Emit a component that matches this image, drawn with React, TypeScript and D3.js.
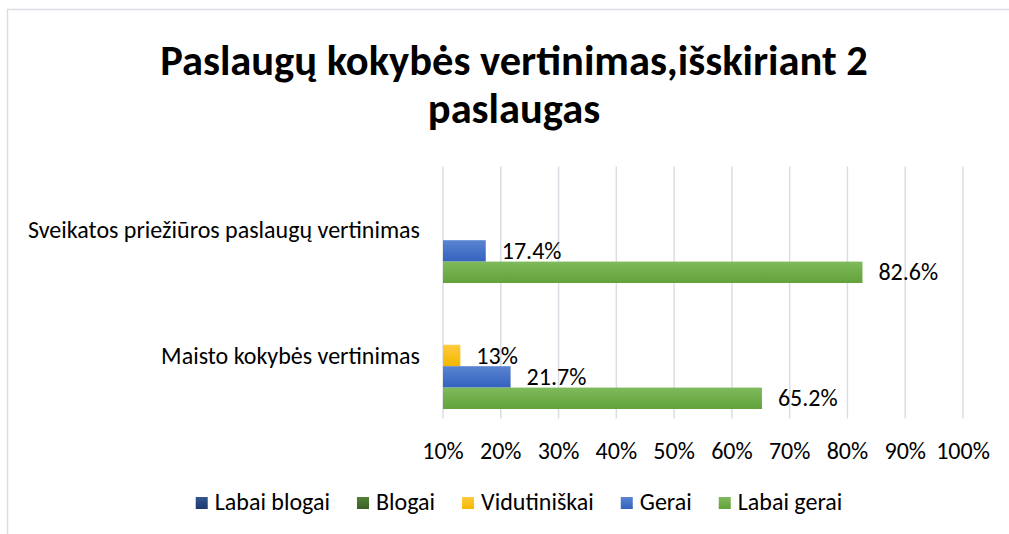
import React from "react";
import * as d3 from "d3";

const categories = ["Sveikatos priežiūros paslaugų vertinimas", "Maisto kokybės vertinimas"];
const seriesNames = ["Labai blogai", "Blogai", "Vidutiniškai", "Gerai", "Labai gerai"];
const labaiBlogai = [null, null];
const blogai = [null, null];
const vidutiniskai = [null, 13];
const gerai = [17.4, 21.7];
const labaiGerai = [82.6, 65.2];
const tickValues = [10, 20, 30, 40, 50, 60, 70, 80, 90, 100];
const titleLines = ["Paslaugų kokybės vertinimas,išskiriant 2", "paslaugas"];

const seriesValues = [labaiBlogai, blogai, vidutiniskai, gerai, labaiGerai];
const colors: [string, string][] = [
  ["#34558f", "#1f3a6c"],
  ["#52803a", "#3b6024"],
  ["#ffca3e", "#f3b800"],
  ["#5a84d2", "#3462bd"],
  ["#7fba5c", "#62a23a"],
];

const FONT = "Carlito, Calibri, Lato, sans-serif";

function measure(text: string, font: string): number {
  const c = document.createElement("canvas");
  const ctx = c.getContext("2d");
  if (!ctx) return text.length * 10;
  ctx.font = font;
  return ctx.measureText(text).width;
}

export default function App() {
  const W = 1009, H = 534;
  const x = d3.scaleLinear().domain([10, 100]).range([443, 963]);
  const y0 = d3.scaleBand<string>().domain(categories).range([166.5, 418.5]).padding(0);
  const y1 = d3
    .scaleBand<string>()
    .domain(seriesNames)
    .range([0, y0.bandwidth()])
    .paddingInner(0)
    .paddingOuter(0.444);

  const fs = 24;
  const legendSq = 12;
  const legendGap = 7;
  const legendItemGap = 27;
  const widths = seriesNames.map((s) => measure(s, `${fs}px ${FONT}`));
  const total =
    widths.reduce((a, b) => a + b, 0) + seriesNames.length * (legendSq + legendGap) + (seriesNames.length - 1) * legendItemGap;
  let lx = 519 - total / 2;
  const legendPos = widths.map((w) => {
    const p = lx;
    lx += legendSq + legendGap + w + legendItemGap;
    return p;
  });

  return (
    <svg width={W} height={H} style={{ position: "absolute", left: 0, top: 0, background: "#fff" }} fontFamily={FONT}>
      <defs>
        {colors.map((c, i) => (
          <linearGradient key={i} id={`g${i}`} x1="0" y1="0" x2="0" y2="1">
            <stop offset="0" stopColor={c[0]} />
            <stop offset="1" stopColor={c[1]} />
          </linearGradient>
        ))}
      </defs>
      <rect x={7.5} y={9.5} width={1020} height={540} fill="#fff" stroke="#dadee4" strokeWidth={1.5} />
      {titleLines.map((t, i) => (
        <text key={i} x={514} y={75 + i * 48} textAnchor="middle" fontSize={42.5} fontWeight="bold" fill="#000">
          {t}
        </text>
      ))}
      {tickValues.map((t) => (
        <line key={t} x1={x(t)} x2={x(t)} y1={166.5} y2={418.5} stroke="#dadee4" strokeWidth={1.5} />
      ))}
      {tickValues.map((t) => (
        <text key={"l" + t} x={x(t)} y={459} textAnchor="middle" fontSize={fs} fill="#000">
          {t}%
        </text>
      ))}
      {categories.map((c) => (
        <text key={c} x={420} y={(y0(c) as number) + y0.bandwidth() / 2 + 8} textAnchor="end" fontSize={fs} fill="#000">
          {c}
        </text>
      ))}
      {seriesValues.map((vals, si) =>
        vals.map((v, ci) => {
          if (v == null) return null;
          const yy = (y0(categories[ci]) as number) + (y1(seriesNames[si]) as number);
          const bh = y1.bandwidth();
          return (
            <g key={`${si}-${ci}`}>
              <rect x={x(10)} y={yy} width={x(v) - x(10)} height={bh} fill={`url(#g${si})`} />
              <text x={x(v) + 16} y={yy + bh / 2 + 8} fontSize={fs} fill="#000">
                {`${v}%`}
              </text>
            </g>
          );
        })
      )}
      {seriesNames.map((s, i) => (
        <g key={s} transform={`translate(${legendPos[i]},0)`}>
          <rect x={0} y={497} width={legendSq} height={legendSq} fill={`url(#g${i})`} />
          <text x={legendSq + legendGap} y={510} fontSize={fs} fill="#000">
            {s}
          </text>
        </g>
      ))}
    </svg>
  );
}
